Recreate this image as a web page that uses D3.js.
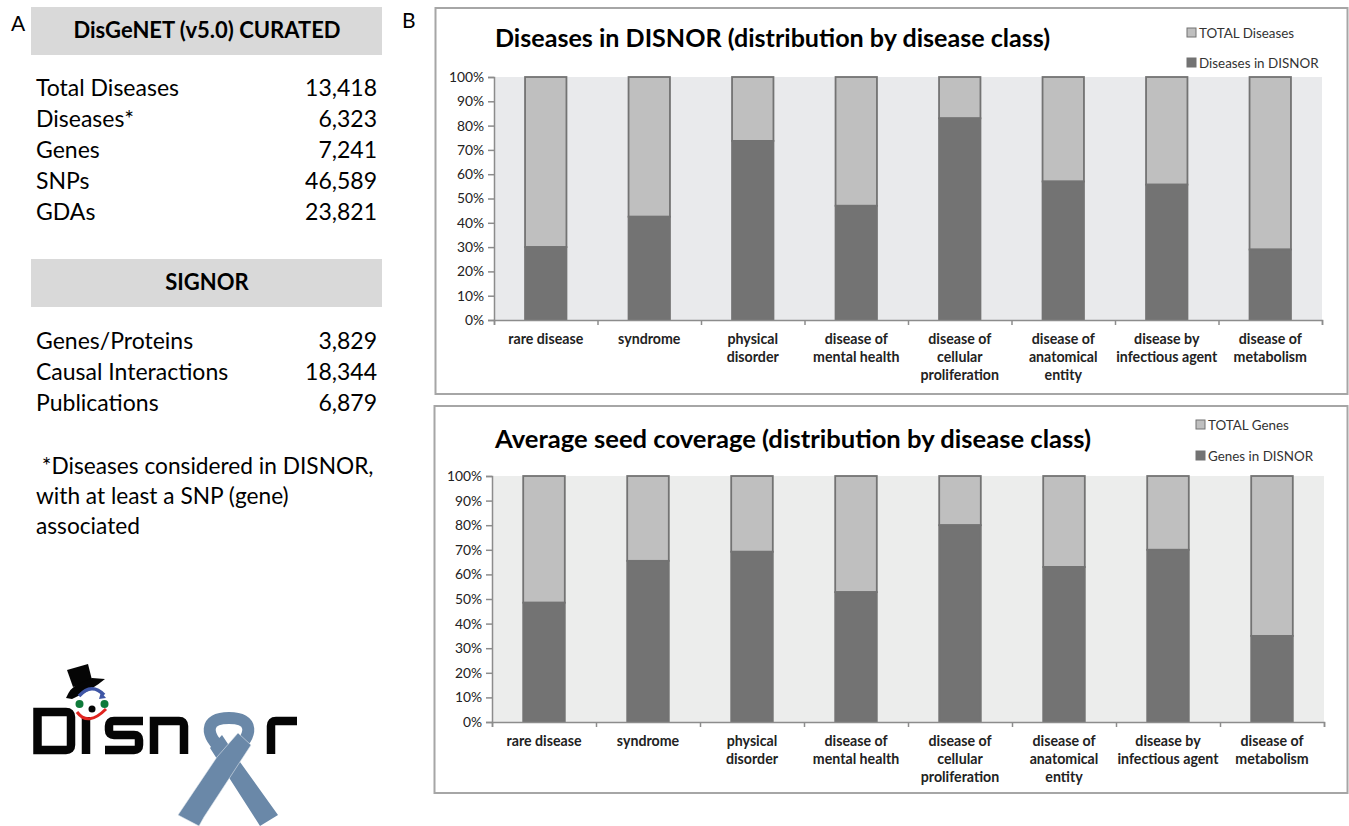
<!DOCTYPE html>
<html>
<head>
<meta charset="utf-8">
<script src="https://cdnjs.cloudflare.com/ajax/libs/d3/7.8.5/d3.min.js"></script>
<style>
  body { margin: 0; background: #fff; font-family: Lato, sans-serif; }
  svg { display: block; }
  .domain, .tick line { stroke: #8c8c8c; stroke-width: 1.5; }
</style>
</head>
<body>
<script>
// chart data
const categories = [
  ["rare disease"],
  ["syndrome"],
  ["physical", "disorder"],
  ["disease of", "mental health"],
  ["disease of", "cellular", "proliferation"],
  ["disease of", "anatomical", "entity"],
  ["disease by", "infectious agent"],
  ["disease of", "metabolism"]
];
const diseasesInDisnor = [30, 42.5, 73.7, 47, 83, 57, 55.7, 29];
const genesInDisnor = [48.5, 65.5, 69.2, 52.8, 80, 63, 70, 35];
const percentTicks = [0, 10, 20, 30, 40, 50, 60, 70, 80, 90, 100];

// table data
const disgenetRows = ["Total Diseases", "Diseases*", "Genes", "SNPs", "GDAs"];
const disgenetValues = ["13,418", "6,323", "7,241", "46,589", "23,821"];
const signorRows = ["Genes/Proteins", "Causal Interactions", "Publications"];
const signorValues = ["3,829", "18,344", "6,879"];
const footnote = [" *Diseases considered in DISNOR,", "with at least a SNP (gene)", "associated"];

const svg = d3.select("body").append("svg")
  .attr("width", 1349)
  .attr("height", 826);

// panel letters
svg.append("text").attr("x", 11).attr("y", 31).style("font-size", "21px").text("A");
svg.append("text").attr("x", 402).attr("y", 28).style("font-size", "21px").text("B");

// left side tables
function drawTable(top, title, rows, values, firstY) {
  svg.append("rect")
    .attr("x", 31).attr("y", top)
    .attr("width", 351).attr("height", 48)
    .attr("fill", "#d9d9d9");
  svg.append("text")
    .attr("x", 207).attr("y", top + 31)
    .attr("text-anchor", "middle")
    .style("font-size", "22px")
    .style("font-weight", 700)
    .text(title);
  rows.forEach(function(r, i) {
    svg.append("text")
      .attr("x", 36).attr("y", firstY + i * 31)
      .style("font-size", "23px")
      .text(r);
    svg.append("text")
      .attr("x", 377).attr("y", firstY + i * 31)
      .attr("text-anchor", "end")
      .style("font-size", "23px")
      .text(values[i]);
  });
}
drawTable(7, "DisGeNET (v5.0) CURATED", disgenetRows, disgenetValues, 96);
drawTable(259, "SIGNOR", signorRows, signorValues, 349);

footnote.forEach(function(line, i) {
  svg.append("text")
    .attr("x", 36).attr("y", 474 + i * 30)
    .style("white-space", "pre")
    .style("font-size", "22.7px")
    .text(line);
});

// stacked bar panel
function drawPanel(opts) {
  svg.append("rect")
    .attr("x", opts.frame[0]).attr("y", opts.frame[1])
    .attr("width", opts.frame[2]).attr("height", opts.frame[3])
    .attr("fill", "#fff").attr("stroke", "#a6a6a6").attr("stroke-width", 2);

  svg.append("text")
    .attr("x", opts.titleX).attr("y", opts.titleY)
    .style("font-size", opts.titleSize + "px").style("font-weight", 700)
    .text(opts.title);

  const width = opts.right - opts.left;
  const height = opts.bottom - opts.top;
  const g = svg.append("g").attr("transform", `translate(${opts.left},${opts.top})`);

  g.append("rect")
    .attr("width", width).attr("height", height)
    .attr("fill", opts.plotFill);

  const x = d3.scaleBand()
    .domain(d3.range(categories.length))
    .range([0, width])
    .paddingInner(0.6)
    .paddingOuter(0.3);
  const y = d3.scaleLinear().domain([0, 100]).range([height, 0]);
  const edge = d3.scaleLinear().domain([0, categories.length]).range([0, width]);

  // top part, always up to 100%
  g.selectAll(".total")
    .data(opts.values)
    .join("rect")
    .attr("class", "total")
    .attr("x", (d, i) => x(i))
    .attr("y", d => y(100))
    .attr("width", x.bandwidth())
    .attr("height", d => y(d) - y(100))
    .attr("fill", "#bfbfbf")
    .attr("stroke", "#737373")
    .attr("stroke-width", 1.8);

  g.selectAll(".part")
    .data(opts.values)
    .join("rect")
    .attr("class", "part")
    .attr("x", (d, i) => x(i))
    .attr("y", d => y(d))
    .attr("width", x.bandwidth())
    .attr("height", d => y(0) - y(d))
    .attr("fill", "#737373")
    .attr("stroke", "#737373")
    .attr("stroke-width", 1.8);

  const yAxis = d3.axisLeft(y)
    .tickValues(percentTicks)
    .tickFormat(d => d + "%")
    .tickSize(6)
    .tickPadding(4);
  const gy = g.append("g").call(yAxis);
  gy.selectAll("text").style("font-family", "Lato, sans-serif").style("font-size", "13.8px").attr("fill", "#222");

  const xAxis = d3.axisBottom(edge)
    .tickValues(d3.range(categories.length + 1))
    .tickFormat("")
    .tickSize(5);
  g.append("g").attr("transform", `translate(0,${height})`).call(xAxis);

  // category labels, one text line per row
  categories.forEach(function(lines, i) {
    lines.forEach(function(line, j) {
      g.append("text")
        .attr("x", x(i) + x.bandwidth() / 2)
        .attr("y", height + 24 + j * 18)
        .attr("text-anchor", "middle")
        .style("font-size", "14.2px")
        .style("font-weight", 700)
        .attr("fill", "#222")
        .text(line);
    });
  });

  // legend
  opts.legend.forEach(function(l) {
    svg.append("rect")
      .attr("x", l.x).attr("y", l.y - 10)
      .attr("width", 9).attr("height", 9)
      .attr("fill", l.fill).attr("stroke", "#737373");
    svg.append("text")
      .attr("x", l.x + 12).attr("y", l.y)
      .style("font-size", "13.4px")
      .attr("fill", "#333")
      .text(l.label);
  });
}

drawPanel({
  frame: [435.5, 8, 912, 386],
  title: "Diseases in DISNOR (distribution by disease class)",
  titleX: 495, titleY: 47, titleSize: 25.1,
  left: 494, right: 1322, top: 77, bottom: 320,
  plotFill: "#e9eaec",
  values: diseasesInDisnor,
  legend: [
    { x: 1187, y: 38, fill: "#bfbfbf", label: "TOTAL Diseases" },
    { x: 1187, y: 68, fill: "#737373", label: "Diseases in DISNOR" }
  ]
});

drawPanel({
  frame: [434.5, 406, 913, 387],
  title: "Average seed coverage (distribution by disease class)",
  titleX: 495, titleY: 448, titleSize: 25.6,
  left: 492, right: 1324, top: 476, bottom: 722,
  plotFill: "#ecedec",
  values: genesInDisnor,
  legend: [
    { x: 1196, y: 430, fill: "#bfbfbf", label: "TOTAL Genes" },
    { x: 1196, y: 461, fill: "#737373", label: "Genes in DISNOR" }
  ]
});

// logo
const logo = svg.append("g");
const logoLetters = [
  "M37.5,712 H66 Q71,712 71,717 V745 Q71,750 66,750 H37.5 Z",
  "M86,717 V754",
  "M143,721 H114 Q109,721 109,726 V730 Q109,735 114,735 H134 Q139,735 139,740 V745 Q139,750 134,750 H105",
  "M154,754 V721 H179 Q184,721 184,726 V754",
  "M271,754 V726 Q271,721 276,721 H297"
];
logoLetters.forEach(function(p) {
  logo.append("path").attr("d", p)
    .attr("fill", "none").attr("stroke", "#050505").attr("stroke-width", 8.5);
});

// ribbon
const ribbonColor = "#6a88a8";
logo.append("path")
  .attr("d", "M225,752 C204,735 204,718 229,718 C254,718 254,735 233,752")
  .attr("fill", "none").attr("stroke", ribbonColor).attr("stroke-width", 12);
logo.append("path")
  .attr("d", "M278,815 L260,826 L253,815 L210,748 L222,735 L240,762 Z")
  .attr("fill", ribbonColor);
logo.append("path")
  .attr("d", "M178,815 L199,826 L204,817 L251,745 L238,733 L217,757 Z")
  .attr("fill", ribbonColor)
  .attr("stroke", "#dfe5ec").attr("stroke-width", 0.6);

// little face on top of the i
logo.append("path").attr("d", "M67,670 L88,664 L92,680 L73,687 Z").attr("fill", "#050505");
logo.append("path").attr("d", "M66,698 Q70,688 78,684 L92,678 L105,679 Q92,690 72,699 Z").attr("fill", "#050505");
logo.append("path").attr("d", "M79,696 Q92,682 104,695").attr("fill", "none").attr("stroke", "#3f56a6").attr("stroke-width", 3.5);
logo.append("path").attr("d", "M101,692 L106,698 L99,699 Z").attr("fill", "#3f56a6");
logo.append("path").attr("d", "M77,712 Q88,727 106,709").attr("fill", "none").attr("stroke", "#e0241f").attr("stroke-width", 3);
logo.append("circle").attr("cx", 79.5).attr("cy", 704).attr("r", 4).attr("fill", "#0f7a3a");
logo.append("circle").attr("cx", 104.5).attr("cy", 704).attr("r", 4).attr("fill", "#0f7a3a");
logo.append("circle").attr("cx", 92).attr("cy", 709).attr("r", 3.5).attr("fill", "#050505");
</script>
</body>
</html>
